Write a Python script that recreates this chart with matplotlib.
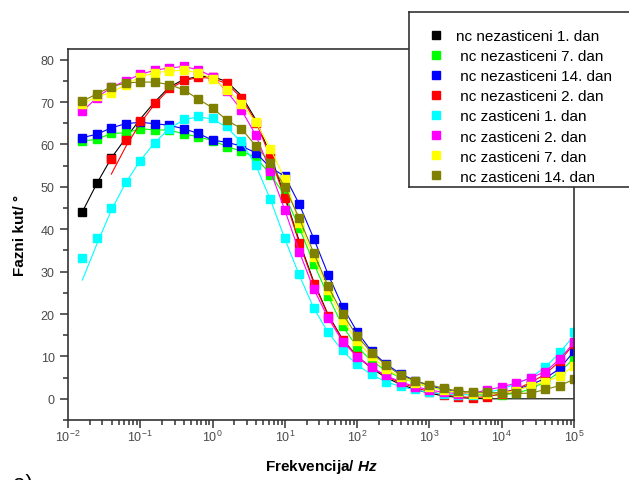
import matplotlib
matplotlib.use('Agg')
import matplotlib.pyplot as plt
import numpy as np
from matplotlib.lines import Line2D
from matplotlib.patches import Rectangle
from matplotlib.ticker import MultipleLocator, LogLocator, NullFormatter

plt.rcParams['font.family'] = ['Liberation Sans', 'DejaVu Sans']
plt.rcParams['mathtext.fontset'] = 'custom'
plt.rcParams['mathtext.rm'] = 'Liberation Sans'
plt.rcParams['mathtext.it'] = 'Liberation Sans:italic:bold'
plt.rcParams['mathtext.bf'] = 'Liberation Sans:bold'

# frekvencije mjerenja (Hz)
freq = [0.0158, 0.0251, 0.0398, 0.0631, 0.1, 0.158, 0.251, 0.398, 0.631, 1.0,
        1.58, 2.51, 3.98, 6.31, 10, 15.8, 25.1, 39.8, 63.1, 100,
        158, 251, 398, 631, 1000, 1580, 2510, 3980, 6310, 10000,
        15800, 25100, 39800, 63100, 100000]

nan = np.nan

# fazni kut (stupnjevi) - mjereni podaci
black = [44.1, 50.8, 56.8, 61.5, nan, nan, nan, nan, nan, nan,
         nan, nan, nan, nan, nan, nan, nan, nan, nan, nan,
         nan, nan, nan, nan, nan, nan, nan, nan, nan, nan,
         nan, nan, nan, nan, nan]
green = [60.8, 61.2, 62.6, 62.7, 63.7, 63.4, 63.4, 62.5, 61.8, 60.9,
         59.5, 58.4, 56.9, 52.9, 48.0, 40.4, 31.9, 24.2, 17.1, 12.2,
         9.0, 6.6, 5.0, 3.8, 2.8, 2.0, 1.4, 1.0, 0.8, 0.9,
         1.3, 2.3, 4.0, 6.3, 9.5]
blue = [61.6, 62.4, 63.9, 64.9, 65.2, 64.9, 64.5, 63.7, 62.6, 61.0,
        60.5, 59.6, 58.0, 54.5, 52.5, 45.9, 37.8, 29.3, 21.7, 15.8,
        11.2, 8.2, 5.9, 4.3, 3.1, 2.2, 1.6, 1.2, 1.2, 1.5,
        2.2, 3.3, 4.8, 7.1, 11.2]
red = [nan, nan, 56.5, 61.1, 65.5, 69.7, 73.3, 75.1, 75.8, 75.8,
       74.5, 71.0, 65.0, 57.0, 47.3, 36.7, 27.1, 19.5, 13.8, 10.0,
       7.5, 5.3, 3.8, 2.6, 1.7, 1.0, 0.4, 0.2, 0.5, 1.2,
       2.3, 3.8, 5.8, 8.8, 13.0]
cyan = [33.1, 38.0, 45.1, 51.1, 56.2, 60.4, 63.7, 66.0, 66.7, 66.3,
        64.3, 60.8, 55.1, 47.2, 37.9, 29.4, 21.5, 15.7, 11.4, 8.1,
        5.8, 4.0, 3.0, 2.2, 1.6, 1.1, 0.9, 1.0, 1.6, 2.3,
        3.6, 5.0, 7.5, 11.0, 15.7]
magenta = [67.8, 71.0, 73.5, 75.0, 76.5, 77.5, 78.0, 78.4, 77.6, 76.0,
           72.5, 68.1, 62.1, 53.7, 44.5, 34.7, 25.9, 19.0, 13.5, 9.9,
           7.4, 5.5, 4.0, 2.9, 2.1, 1.5, 1.2, 1.3, 2.1, 2.8,
           3.7, 4.9, 6.4, 9.3, 13.3]
yellow = [69.5, 71.3, 72.2, 74.1, 75.9, 76.9, 77.3, 77.5, 76.9, 75.5,
          72.9, 69.6, 65.2, 59.0, 51.8, 41.5, 33.4, 25.7, 18.7, 13.6,
          10.0, 7.1, 5.1, 3.8, 2.8, 2.0, 1.5, 1.2, 1.2, 1.4,
          1.9, 3.1, 4.0, 5.3, 7.8]
olive = [70.2, 71.9, 73.6, 74.5, 74.7, 74.7, 74.1, 72.9, 70.7, 68.6,
         65.7, 63.7, 59.6, 55.7, 49.9, 42.6, 34.4, 26.5, 20.0, 14.8,
         10.9, 7.9, 5.6, 4.2, 3.3, 2.5, 1.8, 1.6, 1.5, 1.3,
         1.3, 1.3, 2.2, 3.1, 4.6]

# fit krivulje koje odstupaju od mjerenih tocaka
black_fit = [44.1, 50.8, 56.8, 61.5, 66.0, 70.0, 73.5, 75.3, 76.0, 76.0,
             74.8, 71.5, 65.8, 57.5, 47.8, 37.2, 27.6, 19.8, 14.0, 10.0,
             7.2, 5.0, 3.4, 2.2, 1.3, 0.7, 0.3, 0.1, 0.0, 0.0,
             0.0, 0.0, 0.0, 0.0, 0.0]
red_fit = [nan, nan, 53.0, 59.5, 65.0, 69.5, 73.0, 75.0, 75.8, 75.6,
           74.3, 71.0, 65.3, 57.0, 47.3, 36.8, 27.3, 19.6, 13.9, 10.0,
           7.4, 5.3, 3.8, 2.6, 1.7, 1.0, 0.5, 0.3, 0.5, 1.2,
           2.3, 3.8, 5.8, 8.8, 13.0]
cyan_fit = [28.0, 36.5, 44.5, 51.0, 56.2, 60.4, 63.7, 65.8, 66.5, 66.0,
            64.0, 60.5, 55.0, 47.0, 37.7, 29.2, 21.4, 15.6, 11.3, 8.0,
            5.7, 4.0, 2.9, 2.1, 1.5, 1.1, 0.9, 1.0, 1.5, 2.3,
            3.5, 5.0, 7.4, 10.8, 15.0]

labels = ['nc nezasticeni 1. dan', ' nc nezasticeni 7. dan', ' nc nezasticeni 14. dan',
          ' nc nezasticeni 2. dan', ' nc zasticeni 1. dan', ' nc zasticeni 2. dan',
          ' nc zasticeni 7. dan', ' nc zasticeni 14. dan']
colors = ['#000000', '#00ff00', '#0000ff', '#ff0000', '#00ffff', '#ff00ff', '#ffff00', '#808000']
series = [black, green, blue, red, cyan, magenta, yellow, olive]
fits = [black_fit, green, blue, red_fit, cyan_fit, magenta, yellow, olive]

fig = plt.figure(figsize=(6.29, 4.81), dpi=100)
ax = fig.add_axes([68/629, 1-421/481, (574-68)/629, (421-50)/481])

for vals, fit, c in zip(series, fits, colors):
    ax.plot(freq, fit, '-', color=c, lw=0.8)
    ax.plot(freq, vals, 's', color=c, mec=c, ms=5.8, ls='none')

ax.set_xscale('log')
ax.set_xlim(1e-2, 1e5)
ax.set_ylim(-5, 82.5)
ax.yaxis.set_major_locator(MultipleLocator(10))
ax.yaxis.set_minor_locator(MultipleLocator(5))
ax.xaxis.set_major_locator(LogLocator(base=10, numticks=10))
ax.xaxis.set_minor_locator(LogLocator(base=10, subs=np.arange(2, 10), numticks=20))
ax.xaxis.set_minor_formatter(NullFormatter())

for s in ax.spines.values():
    s.set_color('#333333')
    s.set_linewidth(1.2)
ax.tick_params(which='both', direction='out', color='#333333', width=1.1,
               labelcolor='#4a4a4a', labelsize=9)
ax.tick_params(which='major', length=6)
ax.tick_params(which='minor', length=3.5)
ax.tick_params(axis='x', which='major', length=5.5, pad=1)

ax.set_ylabel('Fazni kut/ °', fontsize=11, fontweight='bold', labelpad=10)
ax.set_xlabel('Frekvencija/ $Hz$', fontsize=11, fontweight='bold', labelpad=9)

# okvir legende (desni rub izlazi izvan slike)
x0, x1 = 409/629, 1.05
y0, y1 = 1-188/481, 1-13/481
fig.patches.append(Rectangle((x0, y0), x1 - x0, y1 - y0, transform=fig.transFigure,
                             facecolor='white', edgecolor='none', zorder=3))
for xs, ys in [([x0, x1], [y1, y1]), ([x0, x0], [y0, y1]), ([x0, x1], [y0, y0])]:
    fig.lines.append(Line2D(xs, ys, transform=fig.transFigure, color='#333333',
                            lw=1.2, zorder=3.5))
handles = [Line2D([], [], marker='s', ls='none', color=c, mec=c, ms=5.8) for c in colors]
fig.legend(handles, labels, loc='upper left', bbox_to_anchor=(428/629, 1-30/481),
           frameon=False, fontsize=11, handlelength=1.0, handletextpad=0.8,
           labelspacing=0.4, borderpad=0, borderaxespad=0)

fig.text(13/629, 1-474/481, 'a)', fontsize=16, va='top', ha='left')

fig.savefig('out.png', dpi=100)
